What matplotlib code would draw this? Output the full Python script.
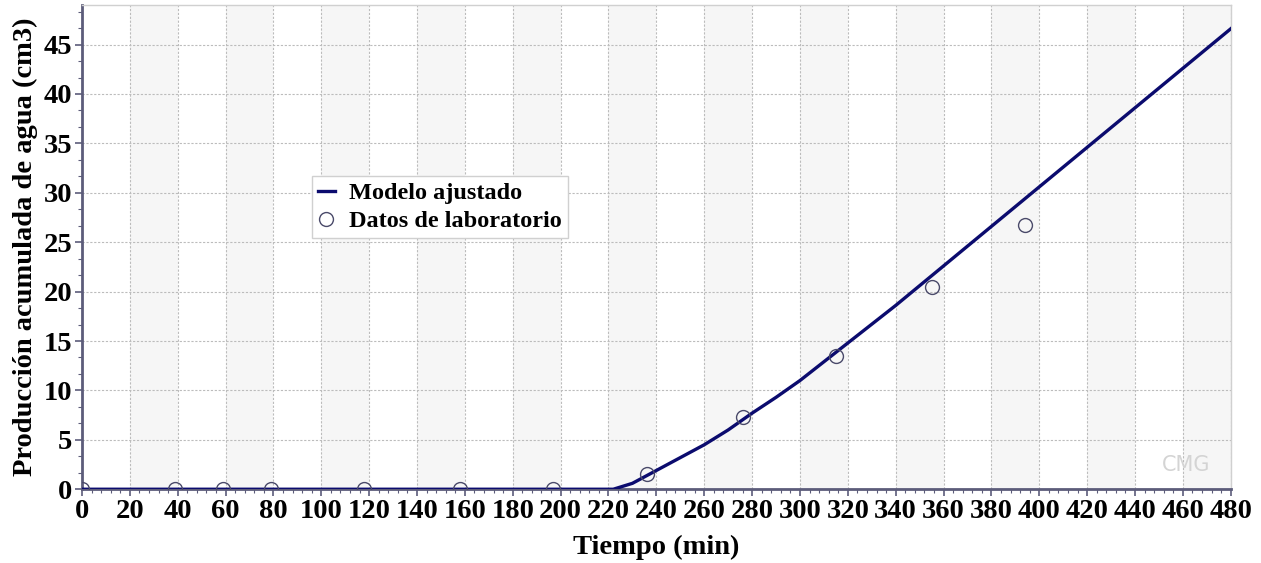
import numpy as np
import matplotlib
matplotlib.use("Agg")
import matplotlib.pyplot as plt
from matplotlib.ticker import MultipleLocator, AutoMinorLocator

# laboratory data (min, cm3)
lab_t = [0, 39, 59, 79, 118, 158, 197, 236, 276, 315, 355, 394]
lab_w = [0, 0, 0, 0, 0, 0, 0, 1.5, 7.3, 13.5, 20.5, 26.7]

# fitted model
model_t = [0, 222, 230, 240, 250, 260, 270, 280, 290, 300, 310, 320,
           340, 360, 380, 400, 420, 440, 460, 480]
model_w = [0, 0, 0.6, 1.9, 3.2, 4.5, 6.0, 7.7, 9.3, 11.0, 12.9, 14.8,
           18.6, 22.6, 26.6, 30.6, 34.6, 38.6, 42.6, 46.6]

plt.rcParams['font.family'] = ['Liberation Serif', 'DejaVu Serif']
plt.rcParams['font.weight'] = 'bold'

fig = plt.figure(figsize=(12.61, 5.63), dpi=100)
ax = fig.add_axes([0.065, 0.131, 0.911, 0.860])

# alternating shaded bands
for x0 in range(20, 480, 40):
    ax.axvspan(x0, x0 + 20, color='#f6f6f6', zorder=0, lw=0)

ax.plot(model_t, model_w, color='#0b0b6e', lw=2.4, label='Modelo ajustado', zorder=3)
ax.plot(lab_t, lab_w, 'o', mfc='none', mec='#4a4a6a', mew=1.0, ms=10,
        label='Datos de laboratorio', zorder=4)

ax.set_xlim(0, 480)
ax.set_ylim(0, 49)
ax.xaxis.set_major_locator(MultipleLocator(20))
ax.yaxis.set_major_locator(MultipleLocator(5))
ax.xaxis.set_minor_locator(AutoMinorLocator(5))
ax.yaxis.set_minor_locator(AutoMinorLocator(3))
ax.grid(True, which='major', color='#bcbcbc', ls=(0, (2, 1.5)), lw=0.8, zorder=1)
ax.set_axisbelow(True)

for s in ['left', 'bottom']:
    ax.spines[s].set_color('#5c5c7a')
    ax.spines[s].set_linewidth(2)
for s in ['top', 'right']:
    ax.spines[s].set_color('#d0d0d0')
    ax.spines[s].set_linewidth(1)

ax.tick_params(which='major', length=5, width=1.2, color='#5c5c7a', labelsize=20.5, pad=2)
ax.tick_params(which='minor', length=3, width=0.8, color='#5c5c7a')

ax.set_xlabel('Tiempo (min)', fontsize=20.5, fontweight='bold', labelpad=8)
ax.set_ylabel('Producción acumulada de agua (cm3)', fontsize=20.5, fontweight='bold', labelpad=4)

leg = ax.legend(loc='upper left', bbox_to_anchor=(0.2, 0.647), borderaxespad=0,
                fontsize=17.5, frameon=True, fancybox=False, handlelength=0.7,
                handletextpad=0.6, borderpad=0.25, labelspacing=0.25)
leg.get_frame().set_edgecolor('#d0d0d0')
leg.get_frame().set_linewidth(1)
leg.get_frame().set_alpha(1)

# watermark
ax.text(0.982, 0.03, 'CMG', transform=ax.transAxes, ha='right', va='bottom',
        fontsize=15, color='#d4d4d4', fontweight='normal', family='DejaVu Sans')

fig.savefig('out.png', dpi=100)
